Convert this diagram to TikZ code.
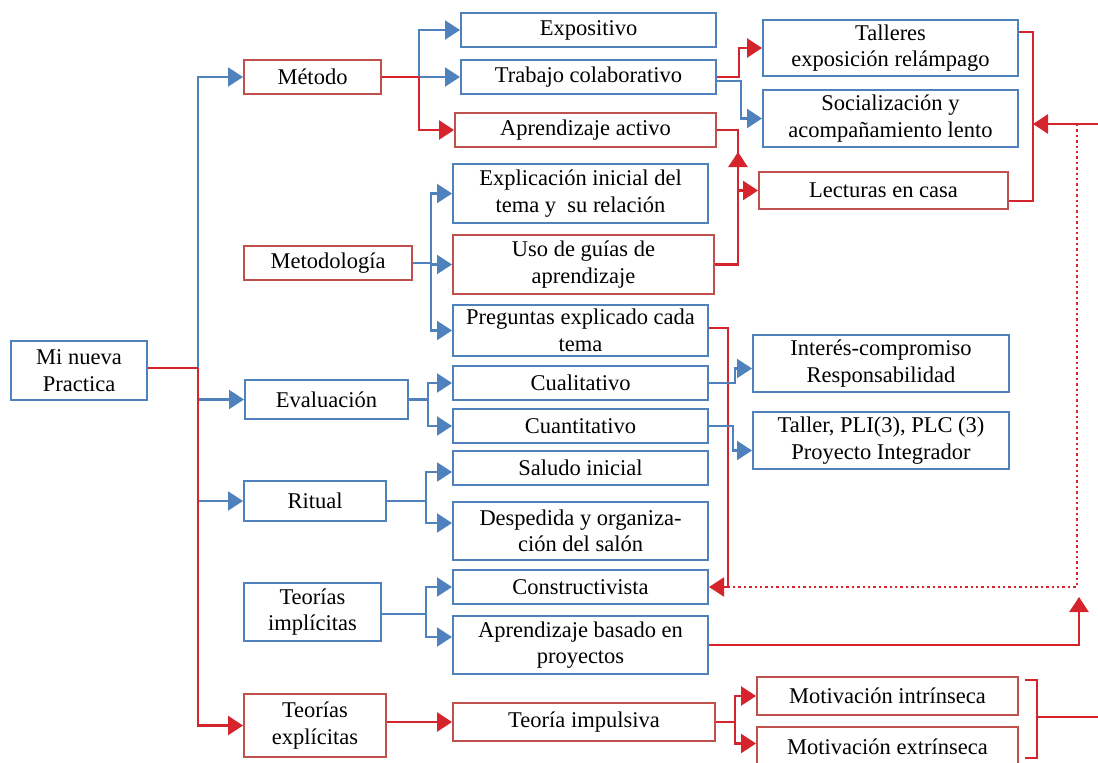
\documentclass[tikz,border=0pt]{standalone}
\usepackage{fontspec}
\setmainfont{Liberation Serif}
\usetikzlibrary{arrows.meta,calc}
\definecolor{bxblue}{RGB}{79,129,189}
\definecolor{bxred}{RGB}{192,80,77}
\definecolor{lnred}{RGB}{214,36,44}
\begin{document}
\begin{tikzpicture}[x=1pt,y=-1pt,
  box/.style={draw=bxblue,line width=2pt,inner sep=0pt,align=center,
    font=\fontsize{22.5}{26.5}\selectfont},
  rbox/.style={box,draw=bxred},
  bl/.style={draw=bxblue,line width=2.2pt},
  rl/.style={draw=lnred,line width=2.8pt},
  rthin/.style={draw=lnred,line width=2pt},
  dotline/.style={draw=lnred,line width=2.4pt,dash pattern=on 2.4pt off 3pt},
  tip/.style={-{Triangle[length=15pt,width=19pt]}},
]
\useasboundingbox (0,0) rectangle (1098,763);

% first and second level
\node[box,minimum width=136,minimum height=59] (mi) at (79,370.5) {Mi nueva\\Practica};
\node[rbox,minimum width=137,minimum height=34] (met) at (312.5,77) {Método};
\node[rbox,minimum width=168,minimum height=34] (mt) at (328,263) {Metodología};
\node[box,minimum width=163,minimum height=39] (ev) at (326.5,399.5) {Evaluación};
\node[box,minimum width=142,minimum height=40] (ri) at (315,501) {Ritual};
\node[box,minimum width=137,minimum height=58] (ti) at (312.5,612) {Teorías\\implícitas};
\node[rbox,minimum width=142,minimum height=63] (te) at (315,725.5) {Teorías\\explícitas};

% third level
\node[box,minimum width=255,minimum height=34] (exp) at (588.5,30) {Expositivo};
\node[box,minimum width=255,minimum height=34] (tra) at (588.5,77) {Trabajo colaborativo};
\node[rbox,minimum width=261,minimum height=34] (apr) at (585.5,130) {Aprendizaje activo};
\node[box,minimum width=255,minimum height=59] (exi) at (580.5,193.5) {Explicación inicial del\\tema y\ \ su relación};
\node[rbox,minimum width=261,minimum height=59] (uso) at (583.5,264.5) {Uso de guías de\\aprendizaje};
\node[box,minimum width=255,minimum height=51] (pre) at (580.5,330.5) {Preguntas explicado cada\\tema};
\node[box,minimum width=255,minimum height=34] (cual) at (580.5,383) {Cualitativo};
\node[box,minimum width=255,minimum height=34] (cuan) at (580.5,426) {Cuantitativo};
\node[box,minimum width=255,minimum height=34] (sal) at (580.5,468) {Saludo inicial};
\node[box,minimum width=255,minimum height=58] (des) at (580.5,531) {Despedida y organiza-\\ción del salón};
\node[box,minimum width=255,minimum height=34] (con) at (580.5,587) {Constructivista};
\node[box,minimum width=255,minimum height=58] (abp) at (580.5,645) {Aprendizaje basado en\\proyectos};
\node[rbox,minimum width=262,minimum height=38] (tei) at (584,722) {Teoría impulsiva};

% fourth level
\node[box,minimum width=255,minimum height=56] (tal) at (890.5,48) {Talleres\\exposición relámpago};
\node[box,minimum width=255,minimum height=57] (soc) at (890.5,118.5) {Socialización y\\acompañamiento lento};
\node[rbox,minimum width=249,minimum height=37] (lec) at (883.5,190.5) {Lecturas en casa};
\node[box,minimum width=256,minimum height=57] (int) at (881,363.5) {Interés-compromiso\\Responsabilidad};
\node[box,minimum width=256,minimum height=57] (tpl) at (881,440.5) {Taller, PLI(3), PLC (3)\\Proyecto Integrador};
\node[rbox,minimum width=261,minimum height=38] (mi1) at (887.5,696) {Motivación intrínseca};
\node[rbox,minimum width=261,minimum height=39] (mi2) at (887.5,746.5) {Motivación extrínseca};

% main trunk
\coordinate (tk) at (198,368);
\draw[bl,tip] (tk |- ti.west) -- (tk |- met.west) -- (met.west);
\draw[bl,tip] (tk |- ev.west) -- (ev.west);
\draw[bl,tip] (tk |- ri.west) -- (ri.west);
\draw[rl] (mi.east |- tk) -- (tk);
\draw[rl,tip] (tk) -- (tk |- te.west) -- (te.west);

% Método
\coordinate (jm) at (419,77);
\draw[bl,tip] (jm) |- (exp.west);
\draw[bl,tip] (jm) -- (tra.west);
\draw[rl] (met.east) -- (jm);
\draw[rl,tip] (jm) |- (apr.west);

% Trabajo colaborativo
\draw[rl,tip] (tra.east) -- ++(22,0) |- (tal.west);
\draw[bl,tip] ($(tra.east)+(0,4)$) -- ++(24,0) |- (soc.west);

% Aprendizaje activo and guías
\coordinate (ju) at (738,152);
\draw[rl,tip] (apr.east) -- (ju |- apr.east) |- (lec.west);
\draw[rl,tip] (uso.east) -- (ju |- uso.east) -- (ju);

% right bracket with incoming arrow and dotted return
\coordinate (bt) at (1033,32);
\coordinate (bb) at (1033,201);
\draw[rl] (tal.east |- bt) -- (bt) -- (bb) -- (lec.east |- bb);
\coordinate (rin) at (1098,124);
\draw[rl,tip] (rin) -- (bt |- rin);
\coordinate (d1) at (1077,124);
\coordinate (d2) at (1077,587);
\coordinate (d3) at (728,587);
\draw[dotline] (d1) -- (d2) -- (d3);

% Preguntas -> Constructivista
\coordinate (jp) at (728,328);
\draw[rthin,tip] (pre.east |- jp) -- (jp) -- (jp |- con.east) -- (con.east);

% Aprendizaje basado en proyectos -> up
\coordinate (ja) at (1079,597);
\draw[rl,tip] (abp.east) -- (ja |- abp.east) -- (ja);

% Metodología
\coordinate (jt) at (431,263);
\draw[bl] (mt.east) -- (jt);
\draw[bl,tip] (jt) |- (exi.west);
\draw[bl,tip] (jt) |- (uso.west);
\draw[bl,tip] (jt) |- (pre.west);

% Evaluación
\coordinate (je) at (428,399.5);
\draw[bl] (ev.east) -- (je);
\draw[bl,tip] (je) |- (cual.west);
\draw[bl,tip] (je) |- (cuan.west);

% Ritual
\coordinate (jr) at (426,501);
\draw[bl] (ri.east) -- (jr);
\draw[bl,tip] (jr) |- ($(sal.west)+(0,4)$);
\draw[bl,tip] (jr) |- ($(des.west)+(0,-8)$);

% Teorías implícitas
\coordinate (ji) at (426,614);
\draw[bl] (ti.east |- ji) -- (ji);
\draw[bl,tip] (ji) |- (con.west);
\draw[bl,tip] (ji) |- ($(abp.west)+(0,-8)$);

% Cualitativo / Cuantitativo
\draw[bl,tip] (cual.east) -- ++(26,0) |- ($(int.west)+(0,5)$);
\draw[bl,tip] (cuan.east) -- ++(24,0) |- ($(tpl.west)+(0,10)$);

% Teorías explícitas -> Teoría impulsiva -> motivaciones
\draw[rl,tip] (te.east |- tei.west) -- (tei.west);
\coordinate (jv) at (735,722);
\draw[rl] (tei.east) -- (jv);
\draw[rl,tip] (jv) |- (mi1.west);
\draw[rl,tip] (jv) |- ($(mi2.west)+(0,-3)$);

% bracket on the motivations
\coordinate (m1) at (1025,680);
\coordinate (m2) at (1037,680);
\coordinate (m3) at (1037,758);
\coordinate (m4) at (1025,758);
\draw[rl] (m1) -- (m2) -- (m3) -- (m4);
\coordinate (mo) at (1098,717);
\draw[rl] (m2 |- mo) -- (mo);
\end{tikzpicture}
\end{document}
